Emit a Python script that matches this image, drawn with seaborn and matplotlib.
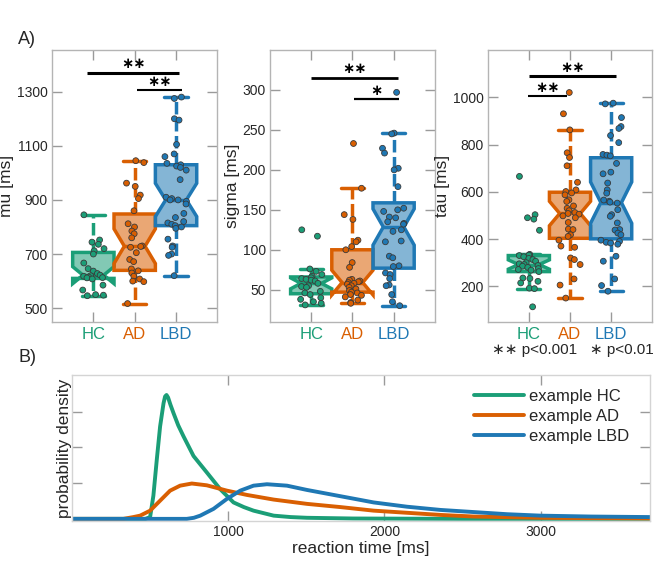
import numpy as np
import pandas as pd
import matplotlib
matplotlib.use("Agg")
import matplotlib.pyplot as plt
import seaborn as sns
from matplotlib.colors import to_rgba

# ---------------- data ----------------
groups = ["HC", "AD", "LBD"]
group_colors = ["#1b9e77", "#d95f02", "#1f78b4"]

mu_HC = [845, 752, 744, 736, 720, 712, 700, 667, 646, 637, 628, 622, 620, 618,
         615, 613, 612, 608, 585, 567, 550, 548, 546]
mu_AD = [1045, 1038, 962, 950, 918, 905, 860, 812, 800, 785, 775, 760, 730, 728,
         725, 705, 680, 672, 645, 638, 630, 618, 608, 600, 598, 517]
mu_LBD = [1280, 1275, 1200, 1195, 1105, 1070, 1060, 1035, 1030, 1025, 1020, 1010,
          975, 910, 905, 900, 900, 895, 885, 850, 835, 820, 815, 810, 805, 800,
          795, 755, 730, 725, 700, 695, 620]

sigma_HC = [125, 117, 76, 73, 69, 67, 65, 64, 63, 62, 61, 58, 55, 54, 53, 48, 46,
            44, 40, 38, 35, 33, 31]
sigma_AD = [233, 177, 144, 138, 112, 110, 104, 100, 84, 78, 63, 62, 61, 60, 59, 58,
            57, 55, 53, 51, 49, 47, 46, 44, 43, 41, 37, 34, 33]
sigma_LBD = [297, 246, 245, 227, 221, 202, 200, 179, 152, 150, 148, 141, 140, 135,
             133, 132, 125, 123, 111, 110, 92, 90, 80, 79, 71, 69, 64, 56, 55, 44,
             35, 30]

tau_HC = [665, 503, 490, 484, 437, 335, 332, 330, 325, 318, 313, 306, 300, 295,
          292, 288, 285, 280, 275, 271, 268, 262, 235, 233, 221, 214, 192, 190, 113]
tau_AD = [1020, 930, 862, 765, 745, 710, 640, 608, 601, 595, 587, 566, 559, 540,
          530, 520, 512, 508, 505, 498, 490, 470, 442, 440, 418, 411, 395, 370,
          365, 320, 313, 292, 231, 205, 150]
tau_LBD = [975, 972, 914, 876, 868, 838, 808, 758, 755, 752, 720, 683, 676, 637,
           608, 594, 565, 560, 556, 552, 524, 503, 496, 468, 440, 438, 425, 418,
           395, 390, 386, 383, 378, 327, 306, 231, 203, 179]

# example densities (arbitrary units)
rt_HC = [0, 470, 500, 521, 543, 564, 586, 596, 605, 615, 630, 650, 680, 714, 778,
         863, 949, 1034, 1100, 1162, 1291, 1400, 1504, 1800, 2500, 3700]
pd_HC = [0, 0, 0.05, 0.65, 1.67, 2.59, 3.24, 3.43, 3.47, 3.40, 3.20, 2.96, 2.62,
         2.31, 1.76, 1.30, 0.83, 0.46, 0.33, 0.23, 0.09, 0.05, 0.03, 0.01, 0, 0]
rt_AD = [0, 329, 393, 436, 500, 564, 628, 692, 767, 863, 992, 1120, 1291, 1504,
         1718, 1931, 2145, 2359, 2573, 3000, 3700]
pd_AD = [0, 0, 0.05, 0.09, 0.23, 0.51, 0.79, 0.93, 0.99, 0.94, 0.79, 0.67, 0.54,
         0.42, 0.33, 0.23, 0.17, 0.11, 0.065, 0.03, 0.01]
rt_LBD = [0, 735, 780, 821, 906, 992, 1077, 1162, 1248, 1376, 1504, 1675, 1846,
          1931, 2145, 2359, 2573, 2786, 3000, 3320, 3700]
pd_LBD = [0, 0, 0.03, 0.09, 0.28, 0.56, 0.79, 0.93, 0.97, 0.93, 0.81, 0.67, 0.53,
          0.46, 0.34, 0.25, 0.19, 0.13, 0.09, 0.065, 0.05]

# ---------------- style ----------------
sns.set_theme(style="white")
plt.rcParams["font.family"] = ["Liberation Sans", "DejaVu Sans"]
plt.rcParams["text.color"] = "#262626"
plt.rcParams["axes.labelcolor"] = "#262626"

SPINE = "#b4b4b4"
TICK = "#9a9a9a"
cmap = dict(zip(groups, group_colors))

fig = plt.figure(figsize=(6.63, 5.65), dpi=100)
W, H = 663.0, 565.0


def px_axes(x0, y0, x1, y1):
    return fig.add_axes([x0 / W, 1 - y1 / H, (x1 - x0) / W, (y1 - y0) / H])


def style_ax(ax):
    for s in ax.spines.values():
        s.set_visible(True)
        s.set_color(SPINE)
        s.set_linewidth(1.0)
    ax.tick_params(axis="both", direction="in", length=7.5, width=1.0,
                   color=TICK, top=True, right=True, bottom=True, left=True,
                   labelsize=10, labelcolor="#262626", pad=3)


def box_panel(ax, arrays, ylabel, ylim, yticks, bars):
    df = pd.concat([pd.DataFrame({"group": g, "value": v})
                    for g, v in zip(groups, arrays)], ignore_index=True)
    for g in groups:
        c = cmap[g]
        n0 = len(ax.patches)
        sns.boxplot(data=df[df["group"] == g], x="group", y="value", order=groups,
                    color=c, linecolor=c, saturation=1, width=1.0, notch=True,
                    showfliers=False, linewidth=2.5, whis=1.5, capwidths=0.56,
                    whiskerprops={"linestyle": (0, (3.6, 1.3))},
                    ax=ax)
        for p in ax.patches[n0:]:
            p.set_facecolor(to_rgba(c, 0.55))
            p.set_edgecolor(c)
    np.random.seed(7)
    sns.stripplot(data=df, x="group", y="value", hue="group", order=groups,
                  hue_order=groups, palette=cmap, jitter=0.27, size=4.2,
                  linewidth=0.6, edgecolor="#3a3a3a", legend=False, ax=ax,
                  zorder=5)
    ax.set_xlim(-1, 3)
    ax.set_ylim(*ylim)
    ax.set_yticks(yticks)
    ax.set_xticks(range(3))
    ax.set_xticklabels(groups)
    ax.set_xlabel("")
    ax.set_ylabel(ylabel, fontsize=12.5, labelpad=2)
    style_ax(ax)
    ax.tick_params(axis="x", labelsize=12, pad=4)
    for lab, g in zip(ax.get_xticklabels(), groups):
        lab.set_color(cmap[g])
    for (x0, x1, yb, ys, txt, lw) in bars:
        ax.plot([x0, x1], [yb, yb], color="black", lw=lw, clip_on=False,
                solid_capstyle="butt", zorder=6)
        ax.text((x0 + x1) / 2, ys, txt, ha="center", va="center",
                fontsize=10.5, family="DejaVu Sans", color="black",
                fontweight="bold", zorder=6)


ax1 = px_axes(52, 50, 217.4, 321.7)
box_panel(ax1, [mu_HC, mu_AD, mu_LBD], "mu [ms]", (450, 1454),
          [500, 700, 900, 1100, 1300],
          [(-0.16, 2.08, 1370, 1403, "∗∗", 2.2),
           (1.06, 2.14, 1305, 1336, "∗∗", 1.5)])

ax2 = px_axes(270, 50, 434.8, 321.7)
box_panel(ax2, [sigma_HC, sigma_AD, sigma_LBD], "sigma [ms]", (10, 350),
          [50, 100, 150, 200, 250, 300],
          [(0.0, 2.1, 315.5, 327, "∗∗", 2.0),
           (1.05, 2.12, 289, 299, "∗", 1.6)])

ax3 = px_axes(487.7, 50, 652.3, 321.7)
box_panel(ax3, [tau_HC, tau_AD, tau_LBD], "tau [ms]", (50, 1200),
          [200, 400, 600, 800, 1000],
          [(0.0, 2.11, 1090, 1127, "∗∗", 2.2),
           (-0.02, 0.93, 1007, 1042, "∗∗", 1.5)])

# ---------------- panel B ----------------
ax4 = px_axes(72, 375, 650, 521)
for g, t, d in zip(groups, [rt_HC, rt_AD, rt_LBD], [pd_HC, pd_AD, pd_LBD]):
    sns.lineplot(x=t, y=d, color=cmap[g], lw=2.8, label="example " + g,
                 estimator=None, sort=False, ax=ax4)
ax4.set_xlim(0, 3700)
ax4.set_ylim(-0.06, 4.03)
ax4.set_xticks([1000, 2000, 3000])
ax4.set_yticks([1, 2, 3])
ax4.set_yticklabels([])
ax4.set_xlabel("reaction time [ms]", fontsize=12.5, labelpad=1)
ax4.set_ylabel("probability density", fontsize=12.5, labelpad=-3)
style_ax(ax4)
for s in ax4.spines.values():
    s.set_color("#d4d4d4")
ax4.legend(loc="upper left", bbox_to_anchor=(474 / W, 1 - 389 / H),
           bbox_transform=fig.transFigure, frameon=False, fontsize=12,
           handlelength=3.0, handletextpad=0.3, labelspacing=0.3,
           borderpad=0, borderaxespad=0)

fig.text(18 / W, 1 - 39 / H, "A)", fontsize=13, ha="left", va="center")
fig.text(18 / W, 1 - 357 / H, "B)", fontsize=13, ha="left", va="center")
fig.text(492 / W, 1 - 350 / H, "∗∗ p<0.001   ∗ p<0.01", fontsize=11,
         ha="left", va="center")

fig.savefig("out.png", dpi=100)
